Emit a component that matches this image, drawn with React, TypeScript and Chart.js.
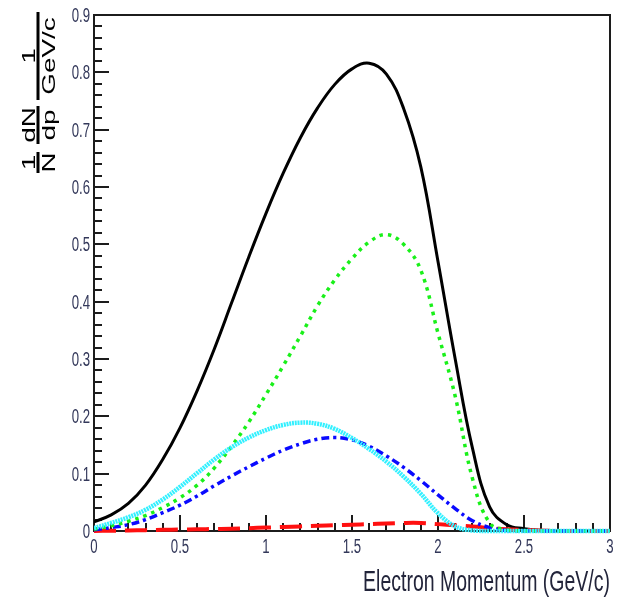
import React, { useEffect, useRef } from 'react';
import { Chart, registerables } from 'chart.js';

Chart.register(...registerables);

// ---- Data ----
const momentum = [
  0, 0.1, 0.2, 0.3, 0.4, 0.5, 0.6, 0.7, 0.8, 0.9,
  1.0, 1.1, 1.2, 1.3, 1.4, 1.5, 1.6, 1.7, 1.8, 1.9,
  2.0, 2.1, 2.2, 2.3, 2.4, 2.5, 2.6, 2.7, 2.8, 2.9, 3.0,
];

const totalSpectrum = [
  0.016, 0.028, 0.048, 0.08, 0.125, 0.18, 0.245, 0.318, 0.398, 0.478,
  0.554, 0.624, 0.686, 0.738, 0.779, 0.806, 0.816, 0.797, 0.737, 0.635,
  0.47, 0.3, 0.145, 0.042, 0.011, 0.004, 0.001, 0, 0, 0, 0,
];

const greenSpectrum = [
  0.003, 0.009, 0.017, 0.027, 0.041, 0.058, 0.08, 0.11, 0.148, 0.19,
  0.238, 0.288, 0.34, 0.393, 0.438, 0.475, 0.504, 0.517, 0.5, 0.455,
  0.345, 0.235, 0.092, 0.014, 0.002, 0, 0, 0, 0, 0, 0,
];

const cyanSpectrum = [
  0.005, 0.014, 0.024, 0.037, 0.055, 0.077, 0.101, 0.125, 0.146, 0.163,
  0.176, 0.185, 0.189, 0.187, 0.178, 0.162, 0.143, 0.121, 0.095, 0.065,
  0.031, 0.008, 0.001, 0, 0, 0, 0, 0, 0, 0, 0,
];

const blueSpectrum = [
  0.002, 0.006, 0.011, 0.02, 0.032, 0.045, 0.061, 0.079, 0.096, 0.112,
  0.127, 0.141, 0.152, 0.16, 0.163, 0.159, 0.148, 0.131, 0.111, 0.088,
  0.063, 0.039, 0.018, 0.006, 0.001, 0, 0, 0, 0, 0, 0,
];

const redSpectrum = [
  0, 0.0005, 0.001, 0.0015, 0.002, 0.0025, 0.003, 0.0035, 0.004, 0.005,
  0.006, 0.007, 0.008, 0.009, 0.01, 0.011, 0.012, 0.013, 0.014, 0.014,
  0.012, 0.01, 0.008, 0.005, 0.003, 0.002, 0.001, 0, 0, 0, 0,
];

const xTickValues = [0, 0.5, 1, 1.5, 2, 2.5, 3];
const xTickLabels = ['0', '0.5', '1', '1.5', '2', '2.5', '3'];
const yTickValues = [0, 0.1, 0.2, 0.3, 0.4, 0.5, 0.6, 0.7, 0.8, 0.9];
const yTickLabels = ['0', '0.1', '0.2', '0.3', '0.4', '0.5', '0.6', '0.7', '0.8', '0.9'];
const xMinorStep = 0.1;
const yMinorStep = 0.02;
const xTitle = 'Electron Momentum (GeV/c)';
const yTitleFractions = [
  { num: '1', den: 'N' },
  { num: 'dN', den: 'dp' },
  { num: '1', den: 'GeV/c' },
];

const FONT = '"Liberation Sans", Arial, Helvetica, sans-serif';

const toPoints = (ys: number[]) => momentum.map((x, i) => ({ x, y: ys[i] }));

const frameAndTicksPlugin = {
  id: 'rootFrame',
  beforeDatasetsDraw(chart: any) {
    const { ctx, chartArea, scales } = chart;
    const { left, right, top, bottom } = chartArea;
    const xs = scales.x;
    const ys = scales.y;
    ctx.save();
    ctx.strokeStyle = '#1c1c1c';
    ctx.lineWidth = 2;
    ctx.strokeRect(left, top, right - left, bottom - top);

    // x ticks (inward, upward)
    const nx = Math.round((xs.max - xs.min) / xMinorStep);
    for (let i = 0; i <= nx; i++) {
      const v = xs.min + i * xMinorStep;
      const px = Math.round(xs.getPixelForValue(v));
      const major = i % 5 === 0;
      const len = major ? 16 : 8;
      ctx.beginPath();
      ctx.moveTo(px, bottom);
      ctx.lineTo(px, bottom - len);
      ctx.stroke();
    }
    // y ticks (inward, rightward)
    const ny = Math.round((ys.max - ys.min) / yMinorStep);
    for (let i = 0; i <= ny; i++) {
      const v = ys.min + i * yMinorStep;
      const py = Math.round(ys.getPixelForValue(v));
      const major = i % 5 === 0;
      const len = major ? 15 : 8;
      ctx.beginPath();
      ctx.moveTo(left, py);
      ctx.lineTo(left + len, py);
      ctx.stroke();
    }
    ctx.restore();
  },
  afterDraw(chart: any) {
    const { ctx, chartArea, scales } = chart;
    const { left, right, bottom } = chartArea;
    const xs = scales.x;
    const ys = scales.y;
    ctx.save();
    ctx.fillStyle = '#33385a';
    ctx.font = `20px ${FONT}`;
    const sx = 0.66;
    // x tick labels
    ctx.textAlign = 'center';
    ctx.textBaseline = 'alphabetic';
    xTickValues.forEach((v, i) => {
      const px = xs.getPixelForValue(v);
      ctx.save();
      ctx.translate(px, bottom + 22);
      ctx.scale(sx, 1);
      ctx.fillText(xTickLabels[i], 0, 0);
      ctx.restore();
    });
    // y tick labels
    ctx.textAlign = 'right';
    yTickValues.forEach((v, i) => {
      const py = ys.getPixelForValue(v);
      ctx.save();
      ctx.translate(left - 4, py + 7);
      ctx.scale(sx, 1);
      ctx.fillText(yTickLabels[i], 0, 0);
      ctx.restore();
    });
    // x title
    ctx.fillStyle = '#22243a';
    ctx.font = `29px ${FONT}`;
    ctx.textAlign = 'right';
    ctx.save();
    ctx.translate(right, 591);
    ctx.scale(0.672, 1);
    ctx.fillText(xTitle, 0, 0);
    ctx.restore();

    // y title: rotated fractions
    const barX = 38;
    const centers = [162.5, 125, 56];
    const barLens = [21, 38, 88];
    const along = 1.55;
    ctx.fillStyle = '#000';
    yTitleFractions.forEach((f, i) => {
      ctx.save();
      ctx.translate(barX, centers[i]);
      ctx.rotate(-Math.PI / 2);
      ctx.scale(along, 1);
      ctx.font = `18px ${FONT}`;
      ctx.textAlign = 'center';
      ctx.textBaseline = 'alphabetic';
      ctx.fillText(f.num, 0, -3);
      ctx.fillText(f.den, 0, 17);
      const L = barLens[i] / along;
      ctx.fillRect(-L / 2, -1.5, L, 3);
      ctx.restore();
    });
    ctx.restore();
  },
};

export default function App() {
  const canvasRef = useRef<HTMLCanvasElement | null>(null);

  useEffect(() => {
    const canvas = canvasRef.current;
    if (!canvas) return;
    const common = {
      pointRadius: 0,
      fill: false,
      tension: 0.4,
      borderCapStyle: 'butt' as const,
      clip: { left: 0, right: 0, top: 0, bottom: 4 },
    };
    const chart = new Chart(canvas, {
      type: 'line',
      data: {
        datasets: [
          {
            ...common,
            label: 'cyan',
            data: toPoints(cyanSpectrum),
            borderColor: '#33f0ff',
            borderWidth: 4.5,
            borderDash: [2, 0.8],
            order: 0,
          },
          {
            ...common,
            label: 'green',
            data: toPoints(greenSpectrum),
            borderColor: '#19f019',
            borderWidth: 3.5,
            borderDash: [3.5, 5],
            order: 1,
          },
          {
            ...common,
            label: 'blue',
            data: toPoints(blueSpectrum),
            borderColor: '#0a0aff',
            borderWidth: 3.5,
            borderDash: [8, 4, 3, 4],
            order: 2,
          },
          {
            ...common,
            label: 'red',
            data: toPoints(redSpectrum),
            borderColor: '#ff1010',
            borderWidth: 4,
            borderDash: [22, 9],
            order: 3,
          },
          {
            ...common,
            label: 'total',
            data: toPoints(totalSpectrum),
            borderColor: '#000000',
            borderWidth: 3,
            order: 5,
          },
        ],
      },
      options: {
        responsive: false,
        animation: false,
        events: [],
        layout: { padding: { left: 94, right: 11, top: 15, bottom: 66 } },
        scales: {
          x: { type: 'linear', min: 0, max: 3, display: false },
          y: { type: 'linear', min: 0, max: 0.9, display: false },
        },
        plugins: {
          legend: { display: false },
          tooltip: { enabled: false },
        },
      },
      plugins: [frameAndTicksPlugin],
    });
    return () => chart.destroy();
  }, []);

  return (
    <div style={{ position: 'fixed', left: 0, top: 0, width: 621, height: 597, background: '#fff' }}>
      <canvas ref={canvasRef} width={621} height={597} style={{ display: 'block' }} />
    </div>
  );
}
